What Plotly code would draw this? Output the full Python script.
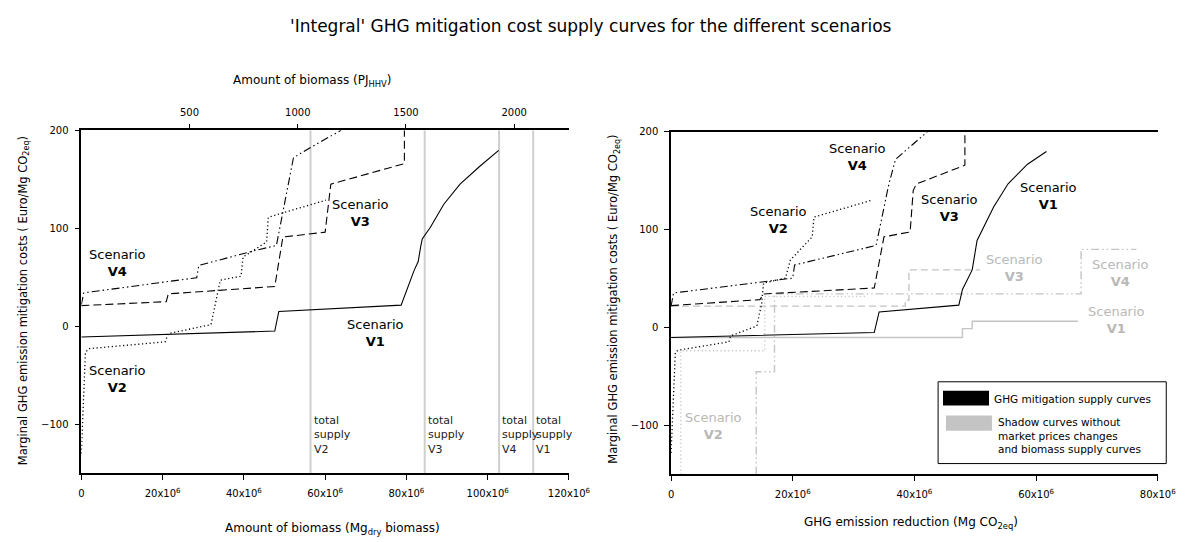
import plotly.graph_objects as go

W, H = 1200, 542

# ---------------- left panel: cost vs amount of biomass (10^6 Mg dry) ----------------
bio_v1_x = [0, 47.6, 48.6, 78.7, 81.9, 82.9, 83.5, 83.9, 85.9, 89.2, 93.2, 98.0, 102.7]
bio_v1_y = [-11, -5, 15, 21.5, 57, 66, 81, 89, 101, 124.5, 145, 163, 179.5]

bio_v2_x = [0, 0.5, 1.0, 1.8, 20.6, 21.4, 31.9, 34.2, 39.3, 39.8, 45.6, 46.0, 49.0, 60.2]
bio_v2_y = [-130, -80, -27, -23, -16, -7.5, 1.5, 47, 51, 70.7, 86, 111, 115, 128.6]

bio_v3_x = [0, 20.9, 21.4, 47.6, 49.6, 60.0, 61.4, 79.5, 79.5]
bio_v3_y = [21, 25, 33, 40.5, 91, 96, 145, 166, 200]

bio_v4_x = [0, 0.6, 28.4, 28.9, 43.0, 48.0, 52.2, 56.2, 63.9]
bio_v4_y = [22, 34, 49.5, 62, 77.5, 82.4, 172, 182, 200]

# total biomass supply per scenario (10^6 Mg dry)
supply_names = ["V2", "V3", "V4", "V1"]
supply_total = [56.4, 84.5, 102.8, 111.2]

bio_ticks = [0, 20, 40, 60, 80, 100, 120]
pj_ticks = [500, 1000, 1500, 2000]
pj_max = 2253  # energy equivalent of 120x10^6 Mg dry biomass

# ---------------- right panel: cost vs GHG emission reduction (10^6 Mg CO2eq) ----------------
ghg_v1_x = [0, 33.4, 34.2, 47.3, 47.9, 49.5, 50.3, 51.1, 53.0, 55.4, 58.6, 61.7]
ghg_v1_y = [-10, -5, 16, 23, 39, 59, 89, 99, 123, 147, 167, 180]

ghg_v2_x = [0, 0.3, 0.7, 1.2, 9.5, 9.8, 14.1, 14.9, 15.2, 18.8, 19.6, 23.2, 23.5, 32.9]
ghg_v2_y = [-128, -80, -25, -23, -14.5, -8.4, 1.7, 25, 45.5, 50.6, 69, 92.8, 113, 130]

ghg_v3_x = [0, 14.6, 15.2, 33.4, 35.0, 39.3, 39.8, 40.3, 48.3, 48.3]
ghg_v3_y = [22.5, 28.6, 34.4, 40.5, 92.8, 97.8, 140, 146.7, 166, 200]

ghg_v4_x = [0, 0.4, 20.0, 20.3, 33.7, 35.8, 36.9, 42.1]
ghg_v4_y = [22, 35.4, 50.6, 64, 84, 146.7, 172, 200]

# shadow curves (no market price changes, no biomass supply curves)
sh_v1_x = [0, 47.9, 47.9, 49.5, 49.5, 66.9]
sh_v1_y = [-10, -10, -1, -1, 6.5, 6.5]

sh_v2_x = [1.6, 1.6, 15.4, 15.4, 32.0]
sh_v2_y = [-150, -23.6, -23.6, 32, 32]

sh_v3_x = [0, 38.5, 38.5, 39.1, 39.1, 50.8]
sh_v3_y = [22, 22, 28, 28, 59, 59]

sh_v4_x = [14.0, 14.0, 17.0, 17.0, 67.4, 67.4, 76.5]
sh_v4_y = [-150, -45, -45, 34.5, 34.5, 80, 80]

ghg_ticks = [0, 20, 40, 60, 80]
cost_ticks = [-100, 0, 100, 200]

FONT = "DejaVu Sans"
BLACK = "#000000"
GREY = "#c4c4c4"
GREY_TXT = "#b8b8b8"
VLINE = "#cfcfcf"

DOT = "1.2px,2.6px"
DASH = "8px,4px"
DASHDOT2 = "8px,3px,1.5px,3px,1.5px,3px"
GDASH = "7px,4px"

fig = go.Figure()


def curve(x, y, dash, color, xa="x", ya="y", width=1.1):
    fig.add_trace(go.Scatter(x=x, y=y, mode="lines", xaxis=xa, yaxis=ya,
                             line=dict(color=color, width=width, dash=dash),
                             hoverinfo="skip", showlegend=False))


# total supply markers on the left panel
for name, tot in zip(supply_names, supply_total):
    curve([tot, tot], [-150, 200], "solid", VLINE, width=2)

curve(bio_v1_x, bio_v1_y, "solid", BLACK)
curve(bio_v2_x, bio_v2_y, DOT, BLACK, width=1.3)
curve(bio_v3_x, bio_v3_y, DASH, BLACK)
curve(bio_v4_x, bio_v4_y, DASHDOT2, BLACK)

# shadow curves first so the main curves sit on top
curve(sh_v1_x, sh_v1_y, "solid", GREY, "x2", "y2", width=1.4)
curve(sh_v2_x, sh_v2_y, DOT, GREY, "x2", "y2", width=1.3)
curve(sh_v3_x, sh_v3_y, GDASH, GREY, "x2", "y2", width=1.4)
curve(sh_v4_x, sh_v4_y, DASHDOT2, GREY, "x2", "y2", width=1.4)

curve(ghg_v1_x, ghg_v1_y, "solid", BLACK, "x2", "y2")
curve(ghg_v2_x, ghg_v2_y, DOT, BLACK, "x2", "y2", width=1.3)
curve(ghg_v3_x, ghg_v3_y, DASH, BLACK, "x2", "y2")
curve(ghg_v4_x, ghg_v4_y, DASHDOT2, BLACK, "x2", "y2")

# dummy trace so the top energy axis is rendered
fig.add_trace(go.Scatter(x=[0], y=[None], xaxis="x3", yaxis="y",
                         mode="lines", showlegend=False, hoverinfo="skip"))


def px(x):
    return x / W


def py(y):
    return 1 - y / H


sci = lambda v: "0" if v == 0 else f"{v}x10<sup>6</sup>"

axis_common = dict(showgrid=False, zeroline=False, showline=True, linecolor=BLACK,
                   linewidth=1.5, ticks="outside", ticklen=5, tickwidth=1.2,
                   tickcolor=BLACK, tickfont=dict(family=FONT, size=10, color=BLACK))

fig.update_layout(
    width=W, height=H, margin=dict(l=0, r=0, t=0, b=0),
    paper_bgcolor="white", plot_bgcolor="white", showlegend=False,
    font=dict(family=FONT, color=BLACK),
    xaxis=dict(domain=[px(80), px(578)], range=[0, 120], anchor="y",
               tickvals=bio_ticks, ticktext=[sci(v) for v in bio_ticks],
               ticklabelstandoff=5, **axis_common),
    yaxis=dict(domain=[py(472.3), py(125.7)], range=[-150, 200], anchor="x",
               tickvals=cost_ticks, ticklabelstandoff=4, **axis_common),
    xaxis3=dict(domain=[px(80), px(578)], range=[0, pj_max], overlaying="x",
                side="top", anchor="y", tickvals=pj_ticks,
                ticklabelstandoff=4, **axis_common),
    xaxis2=dict(domain=[px(682.3), px(1179.3)], range=[0, 80], anchor="y2",
                tickvals=ghg_ticks, ticktext=[sci(v) for v in ghg_ticks],
                ticklabelstandoff=5, mirror=True, **axis_common),
    yaxis2=dict(domain=[py(473.7), py(127.3)], range=[-150, 200], anchor="x2",
                tickvals=cost_ticks, ticklabelstandoff=4, **axis_common),
)

ann = []


def label(x, y, text, xref, yref, size=13, color=BLACK, **kw):
    ann.append(dict(x=x, y=y, xref=xref, yref=yref, text=text, showarrow=False,
                    font=dict(family=FONT, size=size, color=color), **kw))


def scen(x, y, name, xa, ya, color=BLACK):
    label(x, y, f"Scenario<br><b>{name}</b>", xa, ya, color=color,
          xanchor="center", yanchor="middle", align="center")


# left panel scenario labels
scen(8.9, 65, "V4", "x", "y")
scen(8.9, -53.7, "V2", "x", "y")
scen(68.7, 116, "V3", "x", "y")
scen(72.5, -6.8, "V1", "x", "y")

# total supply labels
for name, tot in zip(supply_names, supply_total):
    label(tot + 0.3, -111, f"total<br>supply<br>{name}", "x", "y", size=11,
          color="#222222", xanchor="left", yanchor="middle", align="left")

# right panel scenario labels
scen(30.7, 174, "V4", "x2", "y2")
scen(17.6, 110, "V2", "x2", "y2")
scen(45.7, 122, "V3", "x2", "y2")
scen(62.0, 135, "V1", "x2", "y2")
scen(56.5, 61, "V3", "x2", "y2", GREY_TXT)
scen(73.9, 56, "V4", "x2", "y2", GREY_TXT)
scen(73.3, 7.5, "V1", "x2", "y2", GREY_TXT)
scen(6.9, -100, "V2", "x2", "y2", GREY_TXT)

# titles
label(px(600), py(20), "'Integral' GHG mitigation cost supply curves for the different scenarios",
      "paper", "paper", size=17, xanchor="center", yanchor="middle")
label(px(316), py(76), "Amount of biomass (PJ<sub>HHV</sub>)", "paper", "paper",
      size=12, xanchor="center", yanchor="middle")
label(px(336), py(529), "Amount of biomass (Mg<sub>dry</sub> biomass)", "paper", "paper",
      size=12, xanchor="center", yanchor="middle")
label(px(927), py(523), "GHG emission reduction (Mg CO<sub>2eq</sub>)", "paper", "paper",
      size=12, xanchor="center", yanchor="middle")
ytitle = "Marginal GHG emission mitigation costs ( Euro/Mg CO<sub>2eq</sub>)"
label(px(21), py(298), ytitle, "paper", "paper", size=11.5, textangle=-90,
      xanchor="center", yanchor="middle")
label(px(624), py(297), ytitle, "paper", "paper", size=11.5, textangle=-90,
      xanchor="center", yanchor="middle")

# legend box
label(px(1010), py(397), "GHG mitigation supply curves", "paper", "paper", size=10.5,
      xanchor="left", yanchor="middle")
label(px(1014), py(434), "Shadow curves without<br>market prices changes<br>and biomass supply curves",
      "paper", "paper", size=10.5, xanchor="left", yanchor="middle", align="left")

fig.update_layout(annotations=ann, shapes=[
    dict(type="rect", xref="paper", yref="paper", x0=px(955), x1=px(1188),
         y0=py(462.7), y1=py(380), line=dict(color=BLACK, width=1), fillcolor="white",
         layer="below"),
    dict(type="rect", xref="paper", yref="paper", x0=px(960), x1=px(1007),
         y0=py(404), y1=py(389), line=dict(width=0), fillcolor=BLACK),
    dict(type="rect", xref="paper", yref="paper", x0=px(963), x1=px(1010),
         y0=py(429.5), y1=py(414), line=dict(width=0), fillcolor=GREY),
])

fig.write_html("out.html")
